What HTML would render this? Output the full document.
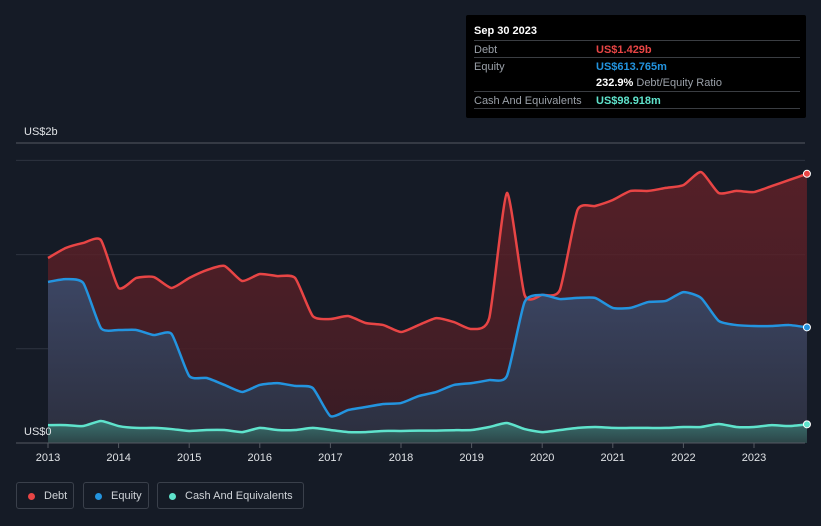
<!DOCTYPE html>
<html><head><meta charset="utf-8"><style>
body{margin:0;background:#151b26;font-family:"Liberation Sans",sans-serif;}
#wrap{position:relative;width:821px;height:526px;overflow:hidden;background:#151b26;}
.tip{position:absolute;left:466px;top:15px;width:340px;height:103px;background:#000;border-radius:2px;font-size:11px;color:#9aa0a8;}
.tip .row{position:absolute;left:8px;width:326px;border-top:1px solid #3a3d42;height:17px;}
.leg{position:absolute;top:482px;height:27px;border:1px solid #3a404b;border-radius:3px;color:#cfd3d8;font-size:11px;line-height:27px;box-sizing:border-box;padding-left:27px;}
.leg i{position:absolute;left:11px;top:10px;width:7px;height:7px;border-radius:50%;}
</style></head><body>
<div id="wrap">
<svg id="svg" width="821" height="526" style="position:absolute;left:0;top:0"></svg>
<div class="tip">
<div style="position:absolute;left:8px;top:10px;color:#fff;font-weight:bold;font-size:11px">Sep 30 2023</div>
<div class="row" style="top:25px"><span style="position:absolute;left:0;top:3px">Debt</span><span style="position:absolute;left:122px;top:3px;color:#e84545;font-weight:bold">US$1.429b</span></div>
<div class="row" style="top:42px"><span style="position:absolute;left:0;top:3px">Equity</span><span style="position:absolute;left:122px;top:3px;color:#2394df;font-weight:bold">US$613.765m</span></div>
<div style="position:absolute;left:130px;top:62px"><b style="color:#fff">232.9%</b> Debt/Equity Ratio</div>
<div class="row" style="top:76px"><span style="position:absolute;left:0;top:3px">Cash And Equivalents</span><span style="position:absolute;left:122px;top:3px;color:#5fe3cc;font-weight:bold">US$98.918m</span></div>
<div class="row" style="top:93px;height:0"></div>
</div>
<div class="leg" style="left:16px;width:58px"><i style="background:#e84545"></i>Debt</div>
<div class="leg" style="left:83px;width:66px"><i style="background:#2394df"></i>Equity</div>
<div class="leg" style="left:157px;width:147px"><i style="background:#5fe3cc"></i>Cash And Equivalents</div>
</div>
<script>
const times=[];for(let i=0;i<=43;i++)times.push(2013+i*0.25);
const debt=[982,1035,1062,1077,823,876,881,823,876,918,940,860,897,886,876,674,658,674,637,626,589,626,663,642,605,663,1327,786,786,812,1237,1258,1290,1338,1338,1354,1369,1438,1327,1338,1332,1364,1396,1429];
const equity=[855,870,849,610,600,600,573,579,356,345,308,271,308,318,303,292,143,175,191,207,212,249,271,308,318,334,356,748,786,764,770,770,717,717,748,754,801,770,648,626,621,621,626,614];
const cash=[95,95,90,117,90,80,80,74,64,69,69,58,80,69,69,80,69,58,58,64,64,66,66,68,69,85,106,74,58,69,80,85,80,80,80,80,85,85,101,85,85,95,90,99];
const yearTicks=[2013,2014,2015,2016,2017,2018,2019,2020,2021,2022,2023];
const gridVals=[500,1000,1500];
const X=t=>48+(t-2013)*70.6;
const Y=v=>443-v*0.1884;
const svg=document.getElementById('svg');const NS='http://www.w3.org/2000/svg';
function mk(tag,at,name,parent){const e=document.createElementNS(NS,tag);for(const k in at)e.setAttribute(k,at[k]);


(parent||svg).appendChild(e);return e;}
const defs=mk('defs',{},'defs');
function grad(id,c1,c2,o1,o2){const g=mk('linearGradient',{id:id,x1:0,y1:0,x2:0,y2:1},'gradient',defs);
mk('stop',{offset:'0','stop-color':c1,'stop-opacity':o1},'stop',g);mk('stop',{offset:'1','stop-color':c2,'stop-opacity':o2},'stop',g);}
grad('gd','#6a2128','#3a1c24',0.75,0.9);grad('ge','#3a4a6a','#2a3040',0.9,0.9);grad('gc','#3f8a80','#2c4a4a',0.7,0.8);
mk('line',{x1:16,x2:805,y1:143,y2:143,stroke:'#555a63','stroke-width':1},'top-gridline');
gridVals.forEach(v=>mk('line',{x1:16,x2:805,y1:Y(v),y2:Y(v),stroke:'#2e3440','stroke-width':1},'gridline'));
function path(vals){const p=vals.map((v,i)=>[X(times[i]),Y(v)]);let d='M'+p[0][0]+','+p[0][1];
for(let i=0;i<p.length-1;i++){const p0=p[i-1]||p[i],p1=p[i],p2=p[i+1],p3=p[i+2]||p2;const k=0.1;
d+=` C${p1[0]+(p2[0]-p0[0])*k},${p1[1]+(p2[1]-p0[1])*k} ${p2[0]-(p3[0]-p1[0])*k},${p2[1]-(p3[1]-p1[1])*k} ${p2[0]},${p2[1]}`;}return d;}
const x0=X(times[0]),x1=X(times[times.length-1]),y0=Y(0);
[['gd',debt,'debt'],['ge',equity,'equity'],['gc',cash,'cash']].forEach(([g,vals,n])=>{
mk('path',{d:path(vals)+` L${x1},${y0} L${x0},${y0} Z`,fill:`url(#${g})`},n+'-area');
});
[[debt,'#e84545','debt'],[equity,'#2394df','equity'],[cash,'#5fe3cc','cash']].forEach(([vals,c,n])=>{
mk('path',{d:path(vals),fill:'none',stroke:c,'stroke-width':2.5},n+'-line');
mk('circle',{cx:x1,cy:Y(vals[vals.length-1]),r:3.5,fill:c,stroke:'#fff','stroke-width':1},n+'-end-point');
});
mk('line',{x1:16,x2:805,y1:y0,y2:y0,stroke:'#555a63','stroke-width':1},'x-axis');
yearTicks.forEach(t=>{mk('line',{x1:X(t),x2:X(t),y1:y0,y2:y0+5,stroke:'#555a63'},'x-tick');
const tx=mk('text',{x:X(t),y:461,fill:'#e0e3e6','font-size':11,'text-anchor':'middle','font-family':'Liberation Sans'},'x-tick-label');tx.textContent=t;});
const a=mk('text',{x:24,y:135,fill:'#e0e3e6','font-size':11,'font-family':'Liberation Sans'},'y-axis-max-label');a.textContent='US$2b';
const b=mk('text',{x:24,y:435,fill:'#e0e3e6','font-size':11,'font-family':'Liberation Sans'},'y-axis-zero-label');b.textContent='US$0';
</script>
</body></html>
